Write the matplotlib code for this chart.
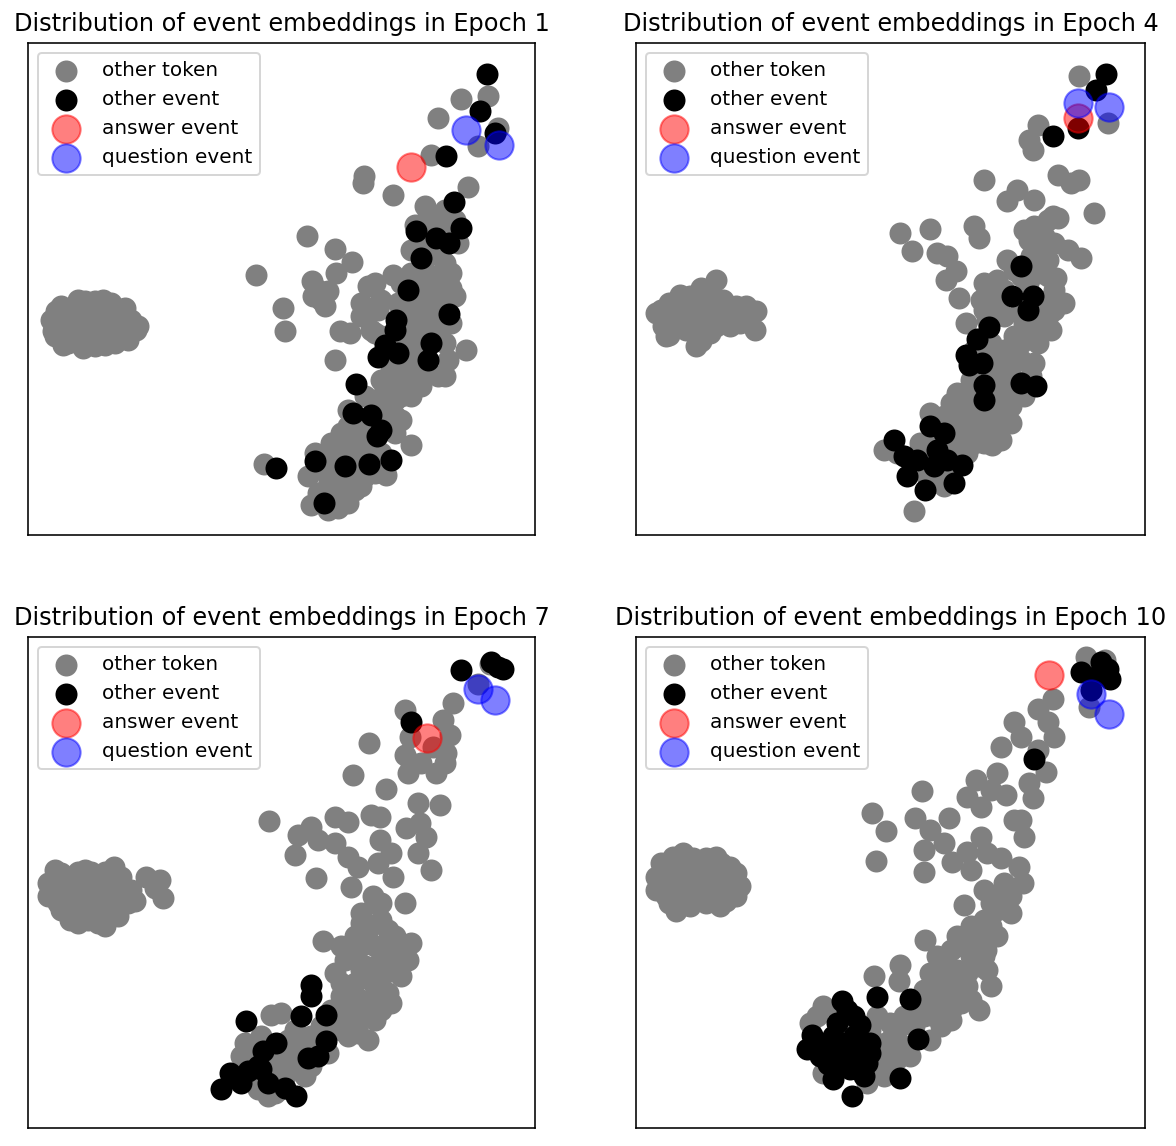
import numpy as np
import matplotlib
matplotlib.use("Agg")
import matplotlib.pyplot as plt

epochs = [1, 4, 7, 10]
labels = ["other token", "other event", "answer event", "question event"]

# ---- Epoch 1 (2-D embedding coordinates, y grows downward) ----
e1_token = [(85,805),(150,770),(225,770),(290,795),(325,860),(75,865),(105,905),(165,915),(230,905),(300,890),
            (120,840),(180,830),(240,830),(270,860),(200,880),(140,880),(130,800),(190,795),(255,805),(310,830),
            (95,850),(210,850),
            (170,775),(200,775),(250,780),(100,790),(160,810),(220,810),(280,820),(70,830),(150,850),(240,860),
            (290,860),(330,850),(180,900),(120,900),(260,900),(200,910),(80,880),(110,870),(170,860),(300,870),
            (685,697),(837,578),(920,618),(972,656),(925,690),(853,715),(870,740),(900,745),(855,760),(890,790),
            (880,770),(765,795),(770,865),(920,950),(935,865),(965,870),(1010,820),(1030,860),(1008,400),(1005,420),
            (1095,457),(1190,490),(1210,335),(1230,225),(1300,168),(1380,160),(1410,255),(1350,310),(1320,433),
            (1315,920),(1150,1205),(1075,1295),(708,1262),
            (1250,500),(1160,545),(1200,520),(1230,540),(1280,530),(1180,600),(1240,620),(1200,640),(1250,660),
            (1180,690),(1220,700),(1270,735),(1020,730),(1040,720),(1095,695),(1150,690),(1200,740),(1170,760),
            (1230,770),(1280,760),(1000,780),(1060,770),(1110,780),(1180,800),(1240,800),(1270,840),(1210,830),
            (1150,840),(1050,800),(1160,880),(1230,880),(1260,950),(1140,950),(1170,920),(1090,980),(1150,990),
            (1180,1030),(1120,1020),(1070,1040),(1040,1070),(1100,1070),(1150,1060),(1010,1060),(960,1100),
            (1080,1110),(1120,1130),(1000,1160),(940,1170),(1100,1170),(1030,1200),(910,1200),(980,1210),(860,1230),
            (920,1240),(990,1240),(1060,1230),(840,1300),(900,1300),(960,1310),(1010,1300),(870,1350),(930,1350),
            (980,1340),(850,1385),(930,1395),(960,1380),(1000,1280),(1290,600),(1240,580),(1190,980),(1230,1000),
            (1200,570),(1270,560),(1150,620),(1210,600),(1270,690),(1120,720),(1250,720),(1190,720),(1130,800),
            (1210,860),(1250,900),(1120,880),(1180,870),(1110,960),(1160,1000),(1060,1010),(1120,1060),(1080,1080),
            (1050,1130),(1030,1150),(1100,1120),(1000,1130),(960,1150),(950,1210),(1010,1220),(1040,1250),(880,1270),
            (940,1290),(900,1330),(960,1350),(880,1380),(900,1400),(1040,1290),(1000,1330),(1160,900),(1250,1000),
            (1000,820),(1040,870),(1060,880)]
e1_event = [(1377,92),(1357,205),(1400,270),(1255,338),(1278,478),(1165,565),(1225,585),(1262,600),(1298,555),
            (1178,645),(1140,740),(1262,812),(1105,830),(1100,862),(1072,905),(1050,942),(1110,930),(1210,900),
            (1200,950),(985,1022),(975,1110),(1030,1115),(1060,1160),(1048,1180),(860,1255),(950,1270),(1022,1262),
            (1088,1250),(745,1275),(888,1380)]
e1_answer = [(1148,373)]
e1_question = [(1315,260),(1412,307)]

# ---- Epoch 4 ----
e4_token = [(240,710),(195,735),(130,755),(75,800),(150,800),(210,790),(260,770),(300,790),(360,805),(355,860),
            (290,820),(240,850),(180,840),(100,875),(195,895),(140,830),(110,800),(250,810),(320,810),(220,870),
            (165,860),(175,770),
            (220,740),(160,760),(100,780),(60,810),(130,810),(190,810),(230,820),(270,790),(330,790),(280,850),
            (210,860),(150,860),(120,850),(80,850),(190,870),(250,830),(310,840),(180,910),(90,880),
            (1325,100),(1410,240),(1200,245),(1185,320),(1175,290),(1040,410),(1110,475),(1140,440),(1190,470),
            (1260,395),(1300,420),(1325,410),(1370,510),(790,570),(878,558),(825,625),(1010,550),(1025,585),
            (1245,520),(1260,525),(1290,620),(1330,645),(1280,780),(1255,705),(900,630),(930,640),(955,685),
            (925,710),(965,765),(985,840),(1110,650),(1120,1140),(1065,1205),(740,1220),(830,1405),(1190,550),
            (1230,530),(1175,590),(1210,610),
            (1180,640),(1230,650),(1150,700),(1200,690),(1250,740),(1040,720),(1080,710),(1030,770),(1080,780),
            (1210,780),(1230,820),(1160,840),(1220,860),(1100,820),(1040,800),(1130,880),(1200,900),(1100,920),
            (1150,950),(1190,960),(1080,980),(1120,1000),(1060,1000),(1000,1010),(1100,1040),(1160,1060),
            (1080,1070),(960,1050),(940,1080),(1000,1080),(1050,1100),(1120,1090),(880,1110),(960,1120),
            (1020,1130),(1080,1150),(940,1160),(1000,1180),(1060,1170),(1040,1200),(990,1230),(900,1270),
            (960,1230),(850,1200),(780,1230),(870,1300),(920,1300),(990,1160),(1010,920),
            (1160,560),(1220,580),(1250,600),(1200,650),(1130,680),(1230,700),(1100,740),(1170,720),(1230,770),
            (1060,740),(1050,830),(1150,800),(1250,800),(1200,830),(1190,880),(1240,860),(1150,900),(1060,900),
            (1120,950),(1070,940),(1180,1000),(1130,1040),(1020,1050),(1080,1110),(1000,1120),(920,1120),
            (980,1140),(960,1190),(1030,1160),(1090,1190),(940,1210),(860,1240),(880,1200),(960,1270),(920,1330),
            (1010,1200)]
e4_event = [(1405,92),(1375,140),(1245,280),(1322,255),(1150,668),(1125,760),(1185,758),(1170,800),(1055,852),
            (1020,888),(985,935),(995,965),(1035,960),(1040,1025),(1040,1070),(1150,1020),(1195,1030),(770,1190),
            (880,1150),(920,1170),(800,1240),(840,1250),(900,1220),(930,1250),(975,1265),(810,1300),(950,1320),
            (865,1340),(890,1270)]
e4_answer = [(1322,225)]
e4_question = [(1320,180),(1412,192)]

# ---- Epoch 7 ----
e7_token = [(80,700),(150,705),(190,705),(258,690),(75,760),(130,760),(200,760),(260,740),(300,770),(355,720),
            (395,730),(405,785),(320,795),(100,820),(160,835),(230,870),(125,850),(200,820),(270,815),(310,760),
            (60,740),(240,790),
            (100,710),(170,700),(230,705),(110,740),(170,735),(230,730),(280,720),(60,780),(110,790),(160,790),
            (210,790),(280,780),(90,800),(140,810),(230,830),(180,850),(150,860),(270,840),(300,800),(380,755),
            (120,825),(210,860),
            (722,553),(975,415),(1022,320),(1073,458),(1130,220),(1275,198),(1245,250),(1265,295),(1255,350),
            (1140,410),(1225,410),(1130,355),(1170,500),(1235,505),(1175,560),(1135,575),(1195,600),(1170,650),
            (1210,700),(920,540),(960,555),(1030,535),(1055,540),(810,595),(850,570),(870,610),(800,655),(920,620),
            (960,660),(990,690),(1055,610),(1090,650),(1050,680),(1095,720),(865,725),(968,752),(1035,780),
            (1130,800),(1000,830),(1060,850),(885,915),(940,930),(1150,920),(1140,970),(1020,1210),(1120,1020),
            (1040,1150),(1350,140),(1385,80),(1215,330),(1145,300),(1180,380),(1250,380),(1150,380),
            (1040,800),(1080,880),(1020,880),(1000,930),(1060,930),(1100,960),(950,970),(1010,990),(1070,1010),
            (920,1010),(980,1040),(1040,1050),(1080,1070),(940,1080),(1000,1090),(1040,1100),(910,1120),(960,1130),
            (1010,1140),(880,1170),(940,1180),(990,1190),(850,1200),(800,1180),(760,1130),(730,1135),(900,1250),
            (790,1250),(650,1220),(700,1200),(740,1300),(800,1290),(850,1290),(740,1370),(690,1360),(770,1320),
            (1090,1100),(980,900),
            (1060,800),(1000,860),(1100,900),(1120,960),(1060,970),(980,960),(1000,1000),(940,1040),(1020,1020),
            (1060,1060),(960,1100),(1060,1120),(990,1150),(930,1150),(900,1180),(960,1200),(880,1230),(820,1230),
            (760,1260),(720,1260),(680,1250),(640,1260),(780,1210),(830,1320),(760,1360),(720,1380),(1080,980),
            (1040,930),(960,1060)]
e7_event = [(1298,100),(1390,75),(1425,97),(1410,90),(1150,255),(850,1045),(848,1080),(818,1140),(895,1135),
            (655,1155),(895,1215),(840,1265),(870,1260),(745,1220),(705,1245),(690,1290),(605,1310),(580,1360),
            (640,1340),(720,1340),(770,1355),(805,1380),(660,1305),(700,1300)]
e7_answer = [(1198,303)]
e7_question = [(1350,155),(1400,188)]

# ---- Epoch 10 ----
e10_token = [(140,650),(75,680),(210,665),(255,680),(300,710),(310,750),(270,795),(210,800),(120,825),(90,780),
             (80,730),(150,700),(200,720),(250,740),(160,760),(190,790),(130,780),(60,720),(115,710),(240,700),
             (110,660),(170,665),(240,660),(100,700),(180,690),(280,690),(60,760),(110,750),(200,755),(280,760),
             (140,735),(230,775),(100,800),(160,810),(250,810),(300,780),(120,760),(190,740),(220,690),(150,790),
             (1345,60),(1400,70),(1355,210),(1245,185),(1200,215),(1130,255),(1090,330),(1150,300),(1250,300),
             (1230,255),(1225,405),(1080,410),(1015,430),(990,480),(1060,460),(1105,475),(1185,485),(1175,440),
             (855,462),(705,528),(748,582),(717,673),(835,545),(880,580),(935,545),(860,640),(920,620),(860,705),
             (945,675),(1030,600),(990,645),(1000,700),(1050,650),(1090,665),(1150,550),(1160,600),(1145,690),
             (1155,740),(1030,510),(1130,550),(1040,760),(1090,780),(980,805),(1120,830),(1060,870),(865,912),
             (790,985),(710,1020),(785,1035),(1025,1120),(1060,1050),(1045,940),(1200,340),
             (1100,740),(1080,820),(1040,850),(1000,870),(960,900),(1020,910),(940,940),(1000,960),(900,960),
             (960,1000),(1020,990),(880,1010),(930,1040),(990,1050),(860,1060),(920,1090),(970,1100),(840,1110),
             (890,1140),(940,1150),(800,1140),(760,1160),(720,1140),(700,1180),(760,1210),(800,1230),(740,1260),
             (760,1300),(700,1310),(690,1340),(560,1110),(540,1140),(520,1160),(880,1210),(1050,1000),
             (1050,880),(1000,900),(1080,900),(960,930),(1040,960),(920,990),(990,1010),(950,1060),(900,1040),
             (880,1090),(940,1120),(1000,1090),(860,1140),(910,1170),(830,1170),(780,1180),(820,1260),(780,1270),
             (720,1220),(680,1210),(740,1320),(690,1290),(650,1260),(720,1290),(600,1120),(630,1190),(560,1310),
             (670,1280),(1120,780),(1060,800)]
e10_event = [(1390,75),(1410,95),(1415,125),(1330,105),(1380,115),(1360,160),(1190,368),(720,1082),(818,1088),
             (843,1207),(790,1325),(615,1095),(650,1140),(600,1160),(670,1165),(525,1195),(510,1240),(560,1230),
             (620,1225),(700,1250),(575,1285),(640,1300),(590,1330),(645,1380),(680,1320),(610,1260),
             (590,1200),(650,1200),(700,1220),(550,1260),(620,1280),(690,1280),(660,1250),(630,1120)]
e10_answer = [(1235,115)]
e10_question = [(1360,170),(1412,230)]

panels = [
    (e1_token, e1_event, e1_answer, e1_question),
    (e4_token, e4_event, e4_answer, e4_question),
    (e7_token, e7_event, e7_answer, e7_question),
    (e10_token, e10_event, e10_answer, e10_question),
]

fig = plt.figure(figsize=(1176/144, 1146/144), dpi=144)
positions = [
    [28/1176, 1-535/1146, 507/1176, 492/1146],
    [636/1176, 1-535/1146, 509/1176, 492/1146],
    [28/1176, 1-1128/1146, 507/1176, 491/1146],
    [636/1176, 1-1128/1146, 509/1176, 491/1146],
]
for pos, ep, (tok, evt, ans, que) in zip(positions, epochs, panels):
    ax = fig.add_axes(pos)
    tok = np.array(tok); evt = np.array(evt); ans = np.array(ans); que = np.array(que)
    ax.scatter(tok[:, 0], tok[:, 1], s=100, c="gray", label=labels[0])
    ax.scatter(evt[:, 0], evt[:, 1], s=100, c="black", label=labels[1])
    ax.scatter(ans[:, 0], ans[:, 1], s=200, c="red", alpha=0.5, label=labels[2])
    ax.scatter(que[:, 0], que[:, 1], s=200, c="blue", alpha=0.5, label=labels[3])
    ax.set_xlim(0, 1521)
    ax.set_ylim(1476, 0)
    ax.set_xticks([])
    ax.set_yticks([])
    ax.set_title(f"Distribution of event embeddings in Epoch {ep}", fontsize=12)
    ax.legend(loc="upper left", fontsize=10)

fig.savefig("out.png", dpi=144)
